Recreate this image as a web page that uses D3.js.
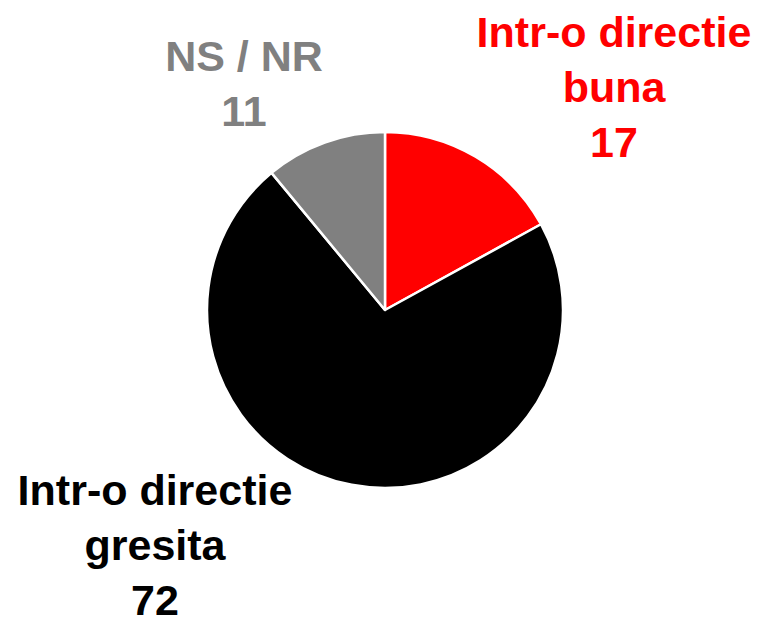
<!DOCTYPE html>
<html>
<head>
<meta charset="utf-8">
<script src="https://cdn.jsdelivr.net/npm/d3@7"></script>
<style>
  html, body { margin: 0; padding: 0; background: #fff; }
  svg { display: block; }
  text { font-family: "Liberation Sans", Arial, sans-serif; font-weight: bold; }
</style>
</head>
<body>
<svg id="chart" width="762" height="624"></svg>
<script>
const categories = ["Intr-o directie buna", "Intr-o directie gresita", "NS / NR"];
const values = [17, 72, 11];
const colors = ["#ff0000", "#000000", "#808080"];
const labelLines = [["Intr-o directie", "buna", "17"], ["Intr-o directie", "gresita", "72"], ["NS / NR", "11"]];

const svg = d3.select("#chart");
const cx = 385, cy = 310, r = 178;

const pie = d3.pie().sort(null).value(d => d.v);
const arcs = pie(values.map((v, i) => ({ v, i })));
const arc = d3.arc().innerRadius(0).outerRadius(r);

const g = svg.append("g").attr("transform", `translate(${cx},${cy})`);
g.selectAll("path").data(arcs).join("path")
  .attr("d", arc)
  .attr("fill", d => colors[d.data.i])
  .attr("stroke", "#fff")
  .attr("stroke-width", 2.5)
  .attr("stroke-linejoin", "round");

// label placement (center x, first baseline y)
const labelPos = [
  { x: 614, y: 47 },
  { x: 155, y: 505 },
  { x: 244, y: 71 }
];
const lineH = 55;

labelLines.forEach((lines, i) => {
  const t = svg.append("text")
    .attr("text-anchor", "middle")
    .attr("font-size", 43)
    .attr("fill", colors[i]);
  lines.forEach((ln, j) => {
    t.append("tspan").attr("x", labelPos[i].x).attr("y", labelPos[i].y + j * lineH).text(ln);
  });
});
</script>
</body>
</html>
